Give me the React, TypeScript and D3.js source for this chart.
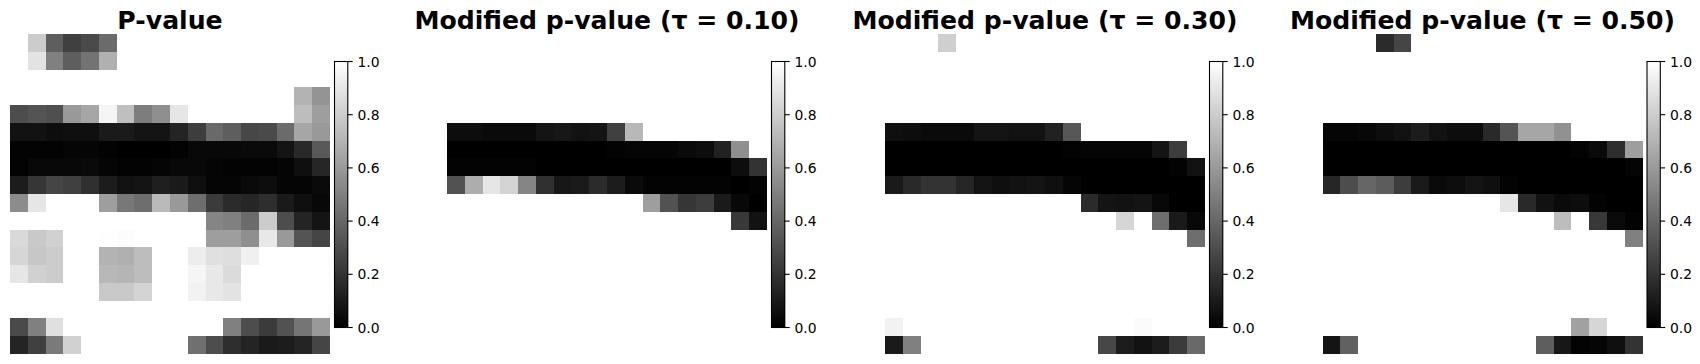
import React from "react";
import * as d3 from "d3";

const N = null;
const Z = 0;

const pValue: (number | null)[][] = [
  [N, .80, .37, .25, .29, .42, N, N, N, N, N, N, N, N, N, N, N, N],
  [N, .89, .50, .37, .45, .69, N, N, N, N, N, N, N, N, N, N, N, N],
  [N, N, N, N, N, N, N, N, N, N, N, N, N, N, N, N, N, N],
  [N, N, N, N, N, N, N, N, N, N, N, N, N, N, N, N, .70, .58],
  [.30, .33, .31, .60, .65, .96, .75, .49, .56, .90, N, N, N, N, N, N, .74, .62],
  [.07, .07, .05, .06, .06, .10, .10, .08, .08, .14, .24, .41, .37, .28, .29, .42, .65, .60],
  [.01, .01, .01, .02, .02, .01, .00, .00, .00, .01, .03, .03, .03, .04, .04, .08, .16, .35],
  [.01, .03, .03, .03, .04, .02, .01, .01, .02, .03, .03, .02, .01, .01, .01, .02, .06, .15],
  [.11, .21, .27, .25, .19, .11, .07, .08, .12, .10, .06, .02, .02, .04, .05, .02, .02, .04],
  [.55, .90, N, N, N, .62, .47, .43, .73, .60, .43, .23, .17, .15, .18, .10, .06, .03],
  [N, N, N, N, N, N, N, N, N, N, N, .52, .50, .42, .80, .30, .14, .08],
  [.85, .79, .82, N, N, .995, .99, N, N, N, N, .62, .62, .56, .91, .60, .33, .27],
  [.84, .78, .80, N, N, .70, .69, .74, N, N, .93, .88, .87, .94, N, N, N, N],
  [.90, .82, .80, N, N, .72, .71, .74, N, N, .96, .91, .86, N, N, N, N, N],
  [N, N, N, N, N, .79, .79, .83, N, N, .95, .91, .89, N, N, N, N, N],
  [N, N, N, N, N, N, N, N, N, N, N, N, N, N, N, N, N, N],
  [.29, .50, .88, N, N, N, N, N, N, N, N, N, .50, .30, .23, .32, .46, .60],
  [.14, .25, .48, .82, N, N, N, N, N, N, .44, .30, .18, .14, .10, .11, .14, .27],
];

const EMPTY: null[] = [N, N, N, N, N, N, N, N, N, N, N, N, N, N, N, N, N, N];

const tau010: (number | null)[][] = [
  EMPTY,
  EMPTY,
  EMPTY,
  EMPTY,
  EMPTY,
  [.05, .05, .04, .04, .04, .08, .09, .07, .08, .25, .72, N, N, N, N, N, N, N],
  [Z, Z, Z, Z, Z, Z, Z, Z, Z, .01, .02, .02, .02, .04, .05, .13, .56, N],
  [.01, .01, .01, .01, .01, Z, Z, Z, Z, Z, Z, Z, Z, Z, Z, Z, .05, .20],
  [.32, .68, .90, .83, .52, .19, .09, .10, .17, .11, .04, .01, .01, .01, .01, .01, Z, .01],
  [N, N, N, N, N, N, N, N, N, N, N, .62, .32, .21, .24, .10, .03, Z],
  [N, N, N, N, N, N, N, N, N, N, N, N, N, N, N, N, .22, .07],
  EMPTY,
  EMPTY,
  EMPTY,
  EMPTY,
  EMPTY,
  EMPTY,
  EMPTY,
];

const tau030: (number | null)[][] = [
  [N, N, N, .81, N, N, N, N, N, N, N, N, N, N, N, N, N, N],
  EMPTY,
  EMPTY,
  EMPTY,
  EMPTY,
  [.06, .05, .04, .04, .04, .08, .08, .07, .07, .13, .34, N, N, N, N, N, N, N],
  [Z, Z, Z, Z, Z, Z, Z, Z, Z, Z, .01, .02, .02, .02, .02, .08, .24, N],
  [Z, Z, Z, Z, Z, Z, Z, Z, Z, Z, Z, Z, Z, Z, Z, Z, .01, .07],
  [.10, .16, .20, .20, .15, .08, .06, .07, .08, .06, .02, Z, Z, Z, Z, Z, Z, Z],
  [N, N, N, N, N, N, N, N, N, N, N, .17, .08, .07, .08, .03, Z, Z],
  [N, N, N, N, N, N, N, N, N, N, N, N, N, .84, N, .43, .10, .03],
  [N, N, N, N, N, N, N, N, N, N, N, N, N, N, N, N, N, .43],
  EMPTY,
  EMPTY,
  EMPTY,
  EMPTY,
  [.95, N, N, N, N, N, N, N, N, N, N, N, N, N, .985, N, N, N],
  [.10, .50, N, N, N, N, N, N, N, N, N, N, .28, .11, .07, .11, .23, .41],
];

const tau050: (number | null)[][] = [
  [N, N, N, .17, .27, N, N, N, N, N, N, N, N, N, N, N, N, N],
  EMPTY,
  EMPTY,
  EMPTY,
  EMPTY,
  [.02, .02, .03, .05, .07, .11, .07, .05, .05, .16, .33, .65, .65, .57, N, N, N, N],
  [Z, Z, Z, Z, Z, Z, Z, Z, Z, Z, Z, Z, Z, Z, .01, .04, .18, .62],
  [Z, Z, Z, Z, Z, Z, Z, Z, Z, Z, Z, Z, Z, Z, Z, Z, Z, .02],
  [.15, .30, .40, .36, .24, .10, .04, .05, .08, .06, .01, Z, Z, Z, Z, Z, Z, Z],
  [N, N, N, N, N, N, N, N, N, N, .90, .16, .07, .04, .05, .01, Z, Z],
  [N, N, N, N, N, N, N, N, N, N, N, N, N, .74, N, .22, .04, .01],
  [N, N, N, N, N, N, N, N, N, N, N, N, N, N, N, N, N, .50],
  EMPTY,
  EMPTY,
  EMPTY,
  EMPTY,
  [N, N, N, N, N, N, N, N, N, N, N, N, N, N, .63, .84, N, N],
  [.08, .38, N, N, N, N, N, N, N, N, N, N, .37, .09, .01, .02, .06, .20],
];

const titles = ["P-value", "Modified p-value (τ = 0.10)", "Modified p-value (τ = 0.30)", "Modified p-value (τ = 0.50)"];
const grids = [pValue, tau010, tau030, tau050];
const panelLefts = [10, 447, 885, 1322.5];
const barTicks = [0, 0.2, 0.4, 0.6, 0.8, 1];

const SIZE = 320;
const TOP = 34;
const color = d3.scaleLinear<string>().domain([0, 1]).range(["#000000", "#ffffff"]);
const rowY = d3.scaleLinear().domain([0, 18]).range([TOP, TOP + SIZE]);
const barY = d3.scaleLinear().domain([0, 1]).range([327.5, 61.5]);
const barSteps = d3.range(0, 266);

function Panel({ left, title, grid }: { left: number; title: string; grid: (number | null)[][] }) {
  const colX = d3.scaleLinear().domain([0, 18]).range([left, left + SIZE]);
  const bx = left + SIZE + 4.5;
  const bw = 13.3;
  return (
    <g>
      <text x={left + SIZE / 2} y={29} textAnchor="middle" fontFamily="DejaVu Sans" fontWeight="bold" fontSize={25.15}>{title}</text>
      {grid.flatMap((row, r) =>
        row.map((v, c) => {
          if (v === null) return null;
          const x0 = Math.round(colX(c)), x1 = Math.round(colX(c + 1));
          const y0 = Math.round(rowY(r)), y1 = Math.round(rowY(r + 1));
          return <rect key={`${r}-${c}`} x={x0} y={y0} width={x1 - x0} height={y1 - y0} fill={color(v)} shapeRendering="crispEdges" />;
        })
      )}
      {barSteps.map((i) => (
        <rect key={i} x={bx} y={barY(0) - i - 1} width={bw} height={1.3} fill={color((i + 0.5) / 266)} shapeRendering="crispEdges" />
      ))}
      <rect x={bx} y={barY(1)} width={bw} height={barY(0) - barY(1)} fill="none" stroke="#000" strokeWidth={1.1} />
      {barTicks.map((t) => (
        <g key={t}>
          <line x1={bx + bw} x2={bx + bw + 4.9} y1={barY(t)} y2={barY(t)} stroke="#000" strokeWidth={1.1} />
          <text x={bx + bw + 9.7} y={barY(t) + 5} fontFamily="DejaVu Sans" fontSize={13.9} fill="#000">{t.toFixed(1)}</text>
        </g>
      ))}
    </g>
  );
}

export default function App() {
  return (
    <svg width={1700} height={364} style={{ position: "absolute", left: 0, top: 0, background: "#fff" }}>
      {titles.map((t, i) => (
        <Panel key={t} left={panelLefts[i]} title={t} grid={grids[i]} />
      ))}
    </svg>
  );
}
